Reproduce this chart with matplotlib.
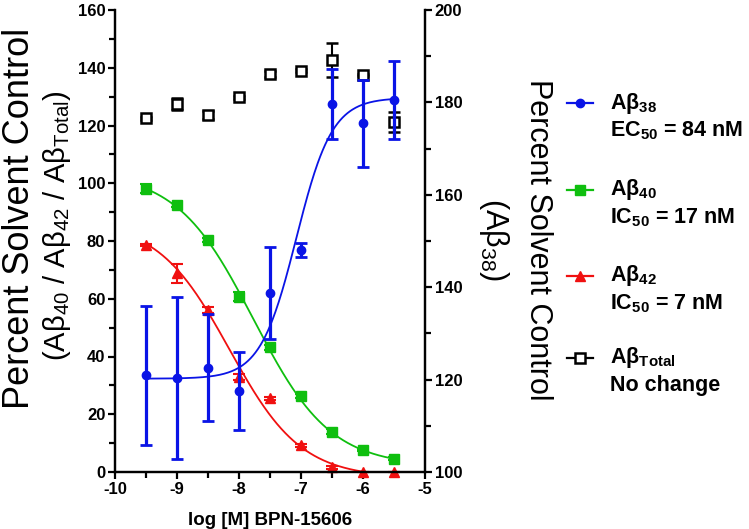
import numpy as np
import matplotlib
matplotlib.use('Agg')
import matplotlib.pyplot as plt
from matplotlib.lines import Line2D

plt.rcParams['font.family'] = 'Liberation Sans'

# data (x = log molar conc.)
log_conc = [-9.5, -9, -8.5, -8, -7.5, -7, -6.5, -6, -5.5]

ab38 = [120.9, 120.4, 122.6, 117.5, 138.8, 148.0, 179.6, 175.5, 180.5]   # right axis
ab38_err = [15.0, 17.5, 11.5, 8.5, 10.0, 1.5, 7.6, 9.4, 8.5]
ab40 = [98.1, 92.5, 80.3, 60.7, 43.2, 26.3, 14.0, 7.6, 4.6]
ab40_err = [1.5, 0.8, 0.8, 1.5, 0.8, 0.8, 0.8, 0.5, 0.5]
ab42 = [78.6, 68.8, 56.0, 33.0, 25.5, 9.3, 1.6, 0.0, 0.0]
ab42_err = [0.5, 3.3, 1.0, 1.0, 0.5, 0.5, 0.5, 0.0, 0.0]
abtotal = [122.5, 127.4, 123.6, 129.8, 137.8, 138.9, 142.7, 137.5, 121.3]
abtotal_err = [0.5, 2.0, 1.5, 0.5, 1.0, 0.5, 6.0, 0.5, 3.5]

# 4PL fit parameters (bottom, top, logEC50/IC50, hill)
fit38 = (120.2, 181.0, np.log10(84e-9), 1.5)
fit40 = (2.0, 104.0, np.log10(17e-9), 0.7)
fit42 = (-2.0, 87.0, np.log10(7e-9), 0.75)

legend_labels = [
    ('Aβ$\\mathregular{_{38}}$', 'EC$\\mathregular{_{50}}$ = 84 nM'),
    ('Aβ$\\mathregular{_{40}}$', 'IC$\\mathregular{_{50}}$ = 17 nM'),
    ('Aβ$\\mathregular{_{42}}$', 'IC$\\mathregular{_{50}}$ = 7 nM'),
    ('Aβ$\\mathregular{_{Total}}$', 'No change'),
]

BLUE = '#0a14e6'
GREEN = '#0fbf0f'
RED = '#f01010'


def four_pl(x, bottom, top, log50, hill):
    return bottom + (top - bottom) / (1 + 10 ** ((log50 - x) * hill))


def px(x, y):
    return x / 749, 1 - y / 529


W, H = 749, 529
fig = plt.figure(figsize=(7.49, 5.29), dpi=100)
ax = fig.add_axes([115 / W, 1 - 472 / H, 310 / W, 462 / H])
ax2 = ax.twinx()

xs = np.linspace(-9.5, -5.5, 300)

# left axis: Ab40, Ab42, total
ax.plot(xs, four_pl(xs, fit40[0], fit40[1], fit40[2], -fit40[3]), color=GREEN, lw=1.3)
ax.plot(xs, four_pl(xs, fit42[0], fit42[1], fit42[2], -fit42[3]), color=RED, lw=1.3)
ax.errorbar(log_conc, ab40, yerr=ab40_err, fmt='s', color=GREEN, ms=7,
            elinewidth=1.5, capsize=4, capthick=1.5, clip_on=False)
ax.errorbar(log_conc, ab42, yerr=ab42_err, fmt='^', color=RED, ms=7.5,
            elinewidth=1.5, capsize=4, capthick=1.5, clip_on=False)
ax.errorbar(log_conc, abtotal, yerr=abtotal_err, fmt='s', color='black', mfc='white',
            mew=1.8, ms=7, elinewidth=1.5, capsize=4, capthick=1.5)

# right axis: Ab38
ax2.plot(xs, four_pl(xs, *fit38), color=BLUE, lw=1.3)
ax2.errorbar(log_conc, ab38, yerr=ab38_err, fmt='o', color=BLUE, ms=6,
             elinewidth=2.3, capsize=4.5, capthick=2)

ax.set_xlim(-10, -5)
ax.set_ylim(0, 160)
ax2.set_ylim(100, 200)
ax.set_xticks(np.arange(-10, -4.9, 1))
ax.set_xticks(np.arange(-9.5, -5, 1), minor=True)
ax.set_yticks(np.arange(0, 161, 20))
ax.set_yticks(np.arange(10, 160, 20), minor=True)
ax2.set_yticks(np.arange(100, 201, 20))
ax2.set_yticks(np.arange(110, 200, 20), minor=True)

for a in (ax, ax2):
    a.spines['top'].set_visible(False)
    for s in ('left', 'right', 'bottom'):
        a.spines[s].set_linewidth(1.6)
    a.tick_params(which='major', length=5, width=1.6, labelsize=12, pad=2)
    a.tick_params(which='minor', length=4, width=1.6)
    for lab in a.get_xticklabels() + a.get_yticklabels():
        lab.set_fontweight('bold')

ax.set_xticklabels(['-10', '-9', '-8', '-7', '-6', '-5'], fontweight='bold')
ax.set_xlabel('log [M] BPN-15606', fontsize=13.5, fontweight='bold', labelpad=11)

# axis titles
fig.text(*px(20, 218), 'Percent Solvent Control', rotation=90, fontsize=26,
         ha='center', va='center')
fig.text(*px(57, 226),
         '(Aβ$\\mathregular{_{40}}$ / Aβ$\\mathregular{_{42}}$ / Aβ$\\mathregular{_{Total}}$)',
         rotation=90, fontsize=21, ha='center', va='center')
fig.text(*px(538, 240), 'Percent Solvent Control', rotation=270, fontsize=22,
         ha='center', va='center')
fig.text(*px(494, 240), '(Aβ$\\mathregular{_{38}}$)', rotation=270, fontsize=22,
         ha='center', va='center')

# legend drawn by hand
leg_y = [103, 190, 276, 358]
leg_style = [
    dict(color=BLUE, marker='o', ms=6),
    dict(color=GREEN, marker='s', ms=7),
    dict(color=RED, marker='^', ms=7.5),
    dict(color='black', marker='s', ms=7, mfc='white', mew=1.8),
]
for (l1, l2), y, st in zip(legend_labels, leg_y, leg_style):
    x0, yy = px(567, y)
    x1, _ = px(593, y)
    fig.add_artist(Line2D([x0, x1], [yy, yy], transform=fig.transFigure,
                          color=st['color'], lw=1.6))
    fig.add_artist(Line2D([(x0 + x1) / 2], [yy], transform=fig.transFigure, **st))
    fig.text(*px(610, y), l1, fontsize=15.5, fontweight='bold', va='center')
    fig.text(*px(610, y + 28), l2, fontsize=15.5, fontweight='bold', va='center')

fig.savefig('out.png', dpi=100)
